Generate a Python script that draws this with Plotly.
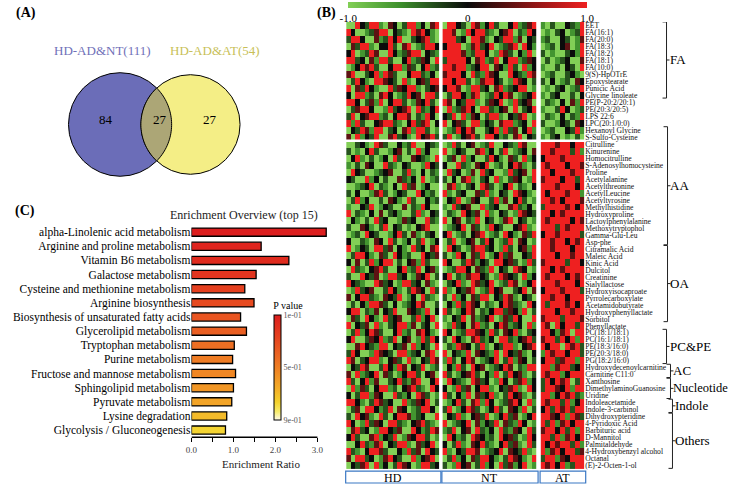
import numpy as np
import plotly.graph_objects as go

W, H = 730, 486
SERIF = "Liberation Serif"

# ---- (A) Venn -------------------------------------------------------------
VENN_SETS = ["HD-AD&NT(111)", "HD-AD&AT(54)"]
VENN_COUNTS = [84, 27, 27]  # left only, shared, right only

# ---- (B) heatmap ----------------------------------------------------------
GROUPS_COLS = ["HD", "NT", "AT"]
ROW_LABELS = [
    "EET", "FA(16:1)", "FA(20:0)", "FA(18:3)", "FA(18:2)", "FA(18:1)", "FA(10:0)",
    "9(S)-HpOTrE", "Epoxystearate", "Punicic Acid", "Glycine linoleate",
    "PE(P-20:2/20:1)", "PE(20:3/20:5)", "LPS 22:6", "LPC(20:1/0:0)",
    "Hexanoyl Glycine", "S-Sulfo-Cysteine", "Citrulline", "Kinurenine",
    "Homocitrulline", "S-Adenosylhomocysteine", "Proline", "Acetylalanine",
    "Acetylthreonine", "AcetylLeucine", "Acetyltyrosine", "Methylhistidine",
    "Hydroxyproline", "Lactoylphenylalanine", "Methoxytryptophol", "Gamma-Glu-Leu",
    "Asp-phe", "Citramalic Acid", "Maleic Acid", "Kinic Acid", "Dulcitol",
    "Creatinine", "Sialyllactose", "Hydroxyisocaproate", "Pyrrolecarboxylate",
    "Acetamidobutyrate", "Hydroxyphenyllactate", "Sorbitol", "Phenyllactate",
    "PC(18:1/18:1)", "PC(16:1/18:1)", "PE(18:3/16:0)", "PE(20:3/18:0)",
    "PG(18:2/16:0)", "Hydroxydecenoylcarnitine", "Carnitine C11:0", "Xanthosine",
    "DimethylaminoGuanosine", "Uridine", "Indoleacetamide", "Indole-3-carbinol",
    "Dihydroxypteridine", "4-Pyridoxic Acid", "Barbituric acid", "D-Mannitol",
    "Palmitaldehyde", "4-Hydroxybenzyl alcohol", "Octanal", "(E)-2-Octen-1-ol",
]
# class brackets: name, first row, last row
ROW_GROUPS = [("FA", 0, 10), ("AA", 15, 31), ("OA", 32, 42), ("PC&PE", 44, 48),
              ("AC", 49, 50), ("Nucleotide", 51, 53), ("Indole", 54, 55),
              ("Others", 56, 63)]

# cell levels: G bright green ... k black ... R bright red
LEVEL = {"G": -1.0, "g": -0.6, "d": -0.3, "k": 0.0, "m": 0.35, "r": 0.65, "R": 1.0}

HD_ROWS = [
    "GGRkdRRgGmkGdRRgkGmR", "RkGGgdmRRGkdgGRmRkgG", "dRRkGGmgdRkRGGdkmRgG",
    "GmdRRgGkkRdGmRGgdRRk", "kRGgdRmGGRkgdmRRGkdg", "RRdkGmgRRdGGkRgdmkGR",
    "GgkRmRdGGkRRgmdGkRgd", "mRGGdkRgRmdGGkRRdgkG", "GdRkgGRRmkdGRgGkmdRR",
    "RGmdRkgGGRdmkRRgGdkm", "kGRRgdGmRkGgdRkmGRRd", "RRkGdmgRGkRRdGgmkRdG",
    "GdmRRkGGgRdkmRGRdgkR", "dRGkmRRgdGkRRmGdgRkG", "RgRdGGkmRRdgGkRdmRGk",
    "GkdRmgRRGdkGmRgRRdGg", "mGRgkdRGGmRdkgGRkmRd",
    "GGdkgGRmdGGkgdRGGkdg", "dGgGkRdGGgkmGdGRgkGG", "GkRgGdGgkGRdGGmkdgGR",
    "gGdGmkGGRdgGkdGGgRkd", "GRkdGGgdkmGGdRgGkGdg", "kdGGRgkGdGGmdgkGRGgd",
    "GGgdkRGdgGkGRdmGgkGG", "dGkGGgmRdGgkdGGRkgdG", "GdRgkGGdGmkgGRdGGkgd",
    "gGGkdRGgkdGGmGdgRkGG", "RGdgGkGmGdkgGGdRgGkd", "GkgGdGRdkGGgmdkGGRdg",
    "dGGmkgGdRGkdGgGkmRGG", "GgdGRkdGGgkRdGmgGdkG", "kGGdgGmkGRdGgkGdRGgk",
    "RGgkdGRRdmGkgGRdkGmR", "GdRRkgGmdGRkgdGGRkdm", "kGmGdRgkRRGdGkmgRdGG",
    "GRdgGkmRdGGkRgdRGkmg", "dGGRkdmGgRRdkGgmkRGd", "RkdgGGRmdkGgRRdkGmgG",
    "GgRdkmGGdRkgGdRmkGRd", "mGkRRdgGmkdRGgkGRdgG", "GdGkgRRmdGkGgdkRmGGd",
    "kRRGdgmGkdRGGmkdgRGk", "GmdGRkgGRdkmGGdRgkRG",
    "RGkdmGRgGdkRRgmGdkGR", "GdRgkRmdGGkRgdGmRkgG", "kRGGdmkRgdRGkmGgRdRk",
    "GGmRkdgRRGkdmGRgkdGR", "dRkGGgRmkdGRRgdkGmRG", "RmGdkRRgGkmdGRgGkdRm",
    "GkdRmGGdRkgRmGkdRGgd", "mGRgdkRGmdGgkRRdGkmG", "RdGkRgmGGdkRdgmRGGkR",
    "GRgmdGkRRgdGkmRdgGRk", "kGdRRgmkGGRdgkGRmdGg", "RRkgGdRmdkGGRgdmkRGd",
    "GdmGRRkgdRGmkGgdRRkG", "dGRkmgGRdGkRRmgdkGGR", "RkGgRdmkGRRdgGkmRdgG",
    "GmRdkGgRRkdmGGRkgdRm", "kRdGGmRgkdRGgmkRRdGg", "GGkRdgmRGkdRRgGmdkRG",
    "RdgGkRRmdGGkgRdmGRkd", "mGRRdkGgmRkdGGRgkmRG", "GkdmRGRgkGdRmkGgRRdk",
]
NT_ROWS = [
    "GRRkdGRmgkRdGGkRgdmR", "RRmGgRkRRdgGkmRGdgRk", "RRRdkGRRmgGkdRRgmGkd",
    "kRRRGgmRdkRGgdmRGRkg", "RRRRmgdRRkGgRmdGkgRG", "dRRRRkGmRgdRGkRRgdmk",
    "RRmRRgdkRRGmkgRdGRgk", "mRRRkGRdgRmkGGRkdgRm", "RRkRRdGgmRRkdGgRmkGd",
    "kRRmGgRRdkGmRgdkRRGg", "GdRRkgmRGgdRkRmGgdkR", "RmGkdRRgGdmkRGgRdkmG",
    "GRgdmRkGRRdgkmGRGdkR", "kdRGRgmkGdRRgGkdmRGg", "RGkmdGRRgkdGmRRgdkGR",
    "GgdRkRmGGdkRgRdmGkRg", "dRGgkmRdGRRkgdGmRGkd",
    "GgRdGkmGgdRGGkdgRmGG", "RGgkdGGmRgkGdRGgdkGm", "GdmGRgkGGdRkgGmdGRgk",
    "kGGRdgGmkRGgdGkRmgGd", "GRdkGgmGRdkGGgRdkmGR", "dGkGmRgGdkGRgGdmkGgR",
    "GmRgGdkGRmdGgkRGdgGk", "RgGdkGGmdRgGkdGRmkgG", "GkdRGgmkGGdRgmGkRdGg",
    "gGRdkmGGRgdkGGmRdgkG", "GdgGRkdmGRgGkdGgRmkd", "RGkmGdgRGkdGgmRGkdGg",
    "GgdkRGmdGgRkdGGkmRgG", "kRGgdGkmRGgdGRkgGmdR", "GdRGgkmGdRkGgdRGmkGg",
    "GRkdGgmRRdkGgRdGkmgR", "dGgRkGmdRGgkRdmGGkdR", "RkGGdRmgkdGRRkmdGgRd",
    "GgdRRkGmdgRGkdGRmkGg", "kRGdgmRRkdGgRmkdGRgk", "GdkRgGRmdkRGgdRmGgkR",
    "RgGkdmRGgdRkmGGdkRGm", "dGRgkGmdRRGkdRmgGkdG", "GkgRdRmkGdgGkRmdgGRk",
    "RdGgkRmGdgkRRdmkgRGd", "gGkdRGmgdkRGgmdRkGGR",
    "GgRdkGmRgdGkRmgdkGRg", "RkGgdRRmkgRdGmkRgGdk", "dGRkgGmRdgkGRRdgkmRd",
    "GdgRmkGdRgGkdRRgGkmR", "RGkdgRGmkdgRGRkdmgGk", "gRdGkRmGgdkRGdRgmkGd",
    "GkgRdGRkmGgdkRmGdgRR", "RdGgkmRdGkgRGdRkmgGd", "GRkdgGRmdkGgRkGdmRgk",
    "kGgRdmGkRRgGkdmRgGRk", "RdGkgRGmdkRgGdRkmgGd", "GgkRdGmRgRkGgdmRkGRg",
    "dRGgkRmdGgkRdGmkgRGd", "GkdRgGkmdRGgkRdmGgkR", "RGgdkRGmgkdRGmdgRkGg",
    "gdRGkmGRdgkGRdgmkGRd", "GRkgdGRmkgdGRkmdGgRk", "kGdRgGmkRdgGkRdmgGRd",
    "RgGkdRRmGgdkRGmkdRgG", "GdRgkGmdRRkgGdRmkgGR", "dGgRkmGdRgkGRdmgkRGg",
]
AT_ROWS = [
    "gGdGGkdgR", "GgGdkGgdR", "gdGGkdGgm", "GgdGkmGgR", "dGgGGdkgR", "GdGgdkGGm",
    "gGGdGkdGR", "GgdGGdkgG", "dGkGgdGmk", "GgGdkGgdR", "gGdkGGdGk", "GdgGkGmgR",
    "gGGdRkGgd", "GdgGkGdgR", "dGGgkdGmk", "GgdGGkdRg", "gGdkGgGdG",
    "RRRmRRkRR", "RRmRRRdRg", "kRRRmRRRR", "RmRRRkRRm", "RRkRRRmRR", "mRRRkRRdR",
    "RRRmRRRkR", "RkRRRmRRg", "RRmRkRRRm", "dRRRRmRkR", "RRkRmRRRR", "RmRRRRkRm",
    "RRRdRmRRR", "kRRmRRRRd", "RRmRRkRmR",
    "RRmRRRkRR", "RRRkRRmRR", "mRRRRdRRk", "RRkRmRRRR", "RmRRRkRmR", "RRRmRRRkR",
    "kRRRmRRRd", "RRmRRkRRR", "RdRRRmRkR", "RRRkRRmRR", "mRRRdRRRm",
    "RmGRkRRdR", "RRkgmRGRR", "mRRdRkRgR", "RkRRGRmRd", "gRmRRkRRd", "kRRdmRRgR",
    "RRgmRRdkR", "RmRRgkRRR", "dRkRmRGdR", "dRRmkRgRR", "RRgkRmRdg", "RmRRdRgkR",
    "kRdRmRdRR", "RRmkRgRmd", "RdRgmRkRR", "mRRkRdRgR", "RRdRgmRkR", "RkRmRRdRg",
    "RgmRkRRdm", "dRRgmkRRR", "RmRkRgdRR",
]

# ---- (C) enrichment -------------------------------------------------------
PATHWAYS = [
    "alpha-Linolenic acid metabolism", "Arginine and proline metabolism",
    "Vitamin B6 metabolism", "Galactose metabolism",
    "Cysteine and methionine metabolism", "Arginine biosynthesis",
    "Biosynthesis of unsaturated fatty acids", "Glycerolipid metabolism",
    "Tryptophan metabolism", "Purine metabolism", "Fructose and mannose metabolism",
    "Sphingolipid metabolism", "Pyruvate metabolism", "Lysine degradation",
    "Glycolysis / Gluconeogenesis",
]
ENRICH_RATIO = [3.21, 1.66, 2.32, 1.54, 1.27, 1.49, 1.17, 1.31, 1.02, 0.98,
                1.05, 1.00, 0.96, 0.84, 0.81]
P_VALUES = [0.10, 0.13, 0.16, 0.21, 0.26, 0.30, 0.34, 0.38, 0.44, 0.49,
            0.53, 0.58, 0.63, 0.70, 0.77]
P_TICKS = [0.1, 0.5, 0.9]
P_TICKTEXT = ["1e-01", "5e-01", "9e-01"]


def fx(px):
    return px / W


def fy(py):
    return 1 - py / H


def to_matrix(rows, n):
    for r in rows:
        assert len(r) == n, (r, len(r))
    assert len(rows) == len(ROW_LABELS), len(rows)
    return [[LEVEL[c] for c in r] for r in rows]


def main():
    fig = go.Figure()
    shapes, ann = [], []

    # ---- (A) Venn ----
    c1, c2, cy, r1, r2 = 115.0, 186.0, 124.0, 52.0, 50.0
    shapes.append(dict(type="circle", xref="x", yref="y", x0=c1 - r1, x1=c1 + r1,
                       y0=cy - r1, y1=cy + r1, fillcolor="#6b6db8",
                       line=dict(color="black", width=1)))
    shapes.append(dict(type="circle", xref="x", yref="y", x0=c2 - r2, x1=c2 + r2,
                       y0=cy - r2, y1=cy + r2, fillcolor="#f4ee86",
                       line=dict(color="black", width=1)))
    d = c2 - c1
    a = (d * d + r1 * r1 - r2 * r2) / (2 * d)
    h = np.sqrt(r1 * r1 - a * a)
    t1 = np.arctan2(h, a)
    t2 = np.arctan2(h, d - a)
    ang1 = np.linspace(-t1, t1, 40)
    ang2 = np.linspace(np.pi - t2, np.pi + t2, 40)
    xs = np.concatenate([c1 + r1 * np.cos(ang1), c2 + r2 * np.cos(ang2)])
    ys = np.concatenate([cy + r1 * np.sin(ang1), cy + r2 * np.sin(ang2)])
    path = "M " + " L ".join(f"{x:.2f},{y:.2f}" for x, y in zip(xs, ys)) + " Z"
    shapes.append(dict(type="path", xref="x", yref="y", path=path,
                       fillcolor="#aca676", line=dict(color="black", width=1)))
    for txt, x, col in zip(VENN_SETS, [97, 211], ["#6f70b8", "#c8bf57"]):
        ann.append(dict(x=x, y=50, xref="x", yref="y", text=txt, showarrow=False,
                        font=dict(family=SERIF, size=13, color=col)))
    for n, x in zip(VENN_COUNTS, [101, 155, 206]):
        ann.append(dict(x=x, y=119, xref="x", yref="y", text=str(n), showarrow=False,
                        font=dict(family=SERIF, size=13, color="black")))

    # pixel canvas for the free drawing
    fig.add_trace(go.Scatter(x=[None], y=[None], xaxis="x", yaxis="y",
                             showlegend=False, hoverinfo="skip"))

    # ---- (B) heatmap ----
    cscale = [[0, "#82cf56"], [0.22, "#3d8f2c"], [0.5, "#0b0b0b"],
              [0.78, "#8f1616"], [1, "#ee2020"]]
    blocks = [(HD_ROWS, 20, "x2", 343, 437), (NT_ROWS, 20, "x3", 440, 535),
              (AT_ROWS, 9, "x4", 539, 583)]
    for i, (rows, n, xa, _, _) in enumerate(blocks):
        fig.add_trace(go.Heatmap(
            z=to_matrix(rows, n), x=list(range(n)), y=list(range(len(ROW_LABELS))),
            xaxis=xa, yaxis="y2", colorscale=cscale, zmin=-1, zmax=1,
            showscale=(i == 0), hoverinfo="skip",
            colorbar=dict(orientation="h", x=fx(465.5), xanchor="center",
                          len=241 / W, lenmode="fraction", y=fy(1.5), yanchor="top",
                          thickness=6, xpad=0, ypad=0, outlinewidth=0,
                          tickvals=[-1, 0, 1], ticktext=["-1.0", "0", "1.0"], ticks="",
                          tickfont=dict(family=SERIF, size=11, color="black"))))
    # gap between the lipid block and amino acids
    shapes.append(dict(type="line", xref="paper", yref="y2", x0=fx(342), x1=fx(584),
                       y0=16.5, y1=16.5, line=dict(color="white", width=2.5)))
    # group boxes under the heatmap
    for name, (_, _, _, x0, x1) in zip(GROUPS_COLS, blocks):
        shapes.append(dict(type="rect", xref="x", yref="y", x0=x0 - 0.5, x1=x1 + 1.5,
                           y0=472, y1=484, fillcolor="white",
                           line=dict(color="#3b78c4", width=1.2)))
        ann.append(dict(x=(x0 + x1) / 2, y=478.5, xref="x", yref="y", text=name,
                        showarrow=False, font=dict(family=SERIF, size=12, color="black")))
    # class brackets
    bx = [666, 667, 667, 666, 670, 670, 672, 672]
    bsize = [13, 13, 13, 13, 13, 12.5, 13, 13]
    for (name, r0, r1_), x, s in zip(ROW_GROUPS, bx, bsize):
        y0, y1 = r0 - 0.5, r1_ + 0.4
        ym = (y0 + y1) / 2
        line = dict(color="#222", width=1)
        shapes.append(dict(type="line", xref="paper", yref="y2", x0=fx(x), x1=fx(x),
                           y0=y0, y1=y1, line=line))
        for yy in (y0, y1):
            shapes.append(dict(type="line", xref="paper", yref="y2", x0=fx(x - 4),
                               x1=fx(x), y0=yy, y1=yy, line=line))
        shapes.append(dict(type="line", xref="paper", yref="y2", x0=fx(x), x1=fx(x + 3),
                           y0=ym, y1=ym, line=line))
        ann.append(dict(x=fx(x + 3), y=ym, xref="paper", yref="y2", text=name,
                        showarrow=False, xanchor="left", xshift=-2,
                        font=dict(family=SERIF, size=s, color="black")))

    # ---- (C) enrichment bars ----
    pscale = [[0, "#fffbe8"], [0.08, "#f8ec6a"], [0.17, "#f4d22d"], [0.3, "#f3ad28"],
              [0.45, "#f08a24"], [0.6, "#ec6923"], [0.8, "#e5401f"], [1, "#dc1e1e"]]
    fig.add_trace(go.Bar(
        x=ENRICH_RATIO, y=PATHWAYS, orientation="h", xaxis="x5", yaxis="y5",
        showlegend=False, hoverinfo="skip",
        marker=dict(color=[-p for p in P_VALUES], colorscale=pscale,
                    cmin=-max(P_TICKS), cmax=-min(P_TICKS),
                    line=dict(color="black", width=1.3),
                    colorbar=dict(x=fx(270), xanchor="left", y=fy(299), yanchor="top",
                                  len=122 / H, thickness=7,
                                  xpad=0, ypad=0, outlinewidth=1, outlinecolor="black",
                                  tickvals=[-p for p in P_TICKS], ticktext=P_TICKTEXT,
                                  ticks="", tickfont=dict(family=SERIF, size=8, color="#555"),
                                  title=dict(text="P value", side="top",
                                             font=dict(family=SERIF, size=10, color="black"))))))
    shapes.append(dict(type="line", xref="x5", yref="y5 domain", x0=0, x1=3,
                       y0=0, y1=0, line=dict(color="black", width=1.5)))
    ann.append(dict(x=240, y=215, xref="x", yref="y", text="Enrichment Overview (top 15)",
                    showarrow=False, font=dict(family=SERIF, size=12, color="#222")))
    ann.append(dict(x=257, y=465, xref="x", yref="y", text="Enrichment Ratio",
                    showarrow=False, font=dict(family=SERIF, size=11, color="#222")))

    for txt, x, y in [("(A)", 20, 12), ("(B)", 323, 12), ("(C)", 19, 211)]:
        ann.append(dict(x=x, y=y, xref="x", yref="y", text=f"<b>{txt}</b>",
                        showarrow=False, font=dict(family=SERIF, size=14, color="black")))

    hid = dict(visible=False, showgrid=False, zeroline=False, fixedrange=True)
    fig.update_layout(
        width=W, height=H, margin=dict(l=0, r=0, t=0, b=0),
        paper_bgcolor="white", plot_bgcolor="rgba(0,0,0,0)", showlegend=False,
        font=dict(family=SERIF),
        xaxis=dict(hid, domain=[0, 1], range=[0, W]),
        yaxis=dict(hid, domain=[0, 1], range=[H, 0]),
        xaxis2=dict(hid, domain=[fx(343), fx(437)], anchor="y2", range=[-0.5, 19.5]),
        xaxis3=dict(hid, domain=[fx(440), fx(535)], anchor="y2", range=[-0.5, 19.5]),
        xaxis4=dict(hid, domain=[fx(539), fx(583)], anchor="y2", range=[-0.5, 8.5]),
        yaxis2=dict(domain=[fy(470), fy(21)], anchor="x4", side="right",
                    range=[len(ROW_LABELS) - 0.5, -0.5], tickmode="array",
                    tickvals=list(range(len(ROW_LABELS))), ticktext=ROW_LABELS,
                    ticks="", showgrid=False, zeroline=False, showline=False,
                    tickfont=dict(family=SERIF, size=7.6, color="#111")),
        xaxis5=dict(domain=[fx(187), fx(330)], anchor="y5", range=[0, 143 / 42.33],
                    tickmode="array", tickvals=[0, 0.5, 1, 1.5, 2, 2.5, 3],
                    ticktext=["0.0", "", "1.0", "", "2.0", "", "3.0"],
                    ticks="outside", ticklen=4, tickwidth=1.3, tickcolor="black",
                    showline=False, showgrid=False, zeroline=False,
                    tickfont=dict(family=SERIF, size=9, color="#444")),
        yaxis5=dict(domain=[fy(438), fy(225)], anchor="x5", autorange="reversed",
                    ticks="", showgrid=False, zeroline=False, showline=False,
                    tickfont=dict(family=SERIF, size=11.5, color="black")),
        bargap=0.42, shapes=shapes, annotations=ann,
    )
    fig.write_html("out.html", config={"displayModeBar": False},
                   post_script="document.body.style.margin='0';")


if __name__ == "__main__":
    main()
